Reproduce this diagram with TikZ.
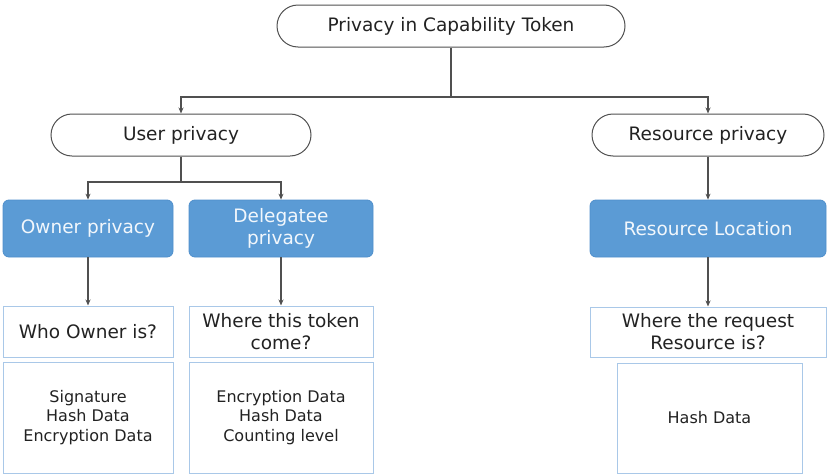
\documentclass[tikz,border=0pt]{standalone}
\usepackage{fontspec}
\setmainfont{DejaVu Sans}
\usetikzlibrary{arrows.meta}
\definecolor{boxblue}{HTML}{5B9BD5}
\definecolor{boxedge}{HTML}{4F8FCB}
\definecolor{lightedge}{HTML}{A9C8E8}
\definecolor{linegray}{HTML}{505050}
\definecolor{txt}{HTML}{222222}
\definecolor{bluetxt}{HTML}{F2F7FC}
\begin{document}
\begin{tikzpicture}[x=1pt,y=-1pt,
 pill/.style={draw=linegray, line width=1pt, rounded corners=21pt, minimum height=42pt, inner sep=0pt, font=\fontsize{18.5}{22}\selectfont, text=txt},
 bluebox/.style={fill=boxblue, draw=boxedge, line width=0.8pt, rounded corners=6pt, minimum height=57pt, inner sep=0pt, align=center, text=bluetxt, font=\fontsize{18.5}{22}\selectfont},
 qbox/.style={draw=lightedge, line width=1pt, minimum height=51pt, inner sep=0pt, align=center, text=txt, font=\fontsize{18.5}{22}\selectfont},
 dbox/.style={draw=lightedge, line width=1pt, minimum height=111pt, inner sep=0pt, align=center, text=txt, font=\fontsize{16}{19.5}\selectfont},
 conn/.style={draw=linegray, line width=1.2pt},
 arr/.style={conn, -{Stealth[length=6pt,width=5pt]}}]
\useasboundingbox (0,0) rectangle (827,474);
\node[pill, minimum width=348pt] (top) at (451,26) {Privacy in Capability Token};
\node[pill, minimum width=260pt] (user) at (181,135) {User privacy};
\node[pill, minimum width=232pt] (res) at (708,135) {Resource privacy};
\node[bluebox, minimum width=170pt] (owner) at (88,228.5) {Owner privacy};
\node[bluebox, minimum width=184pt] (dele) at (281,228.5) {Delegatee\\privacy};
\node[bluebox, minimum width=236pt] (loc) at (708,228.5) {Resource Location};
\node[qbox, minimum width=170pt] (who) at (88,331.5) {Who Owner is?};
\node[qbox, minimum width=184pt] (where) at (281,331.5) {Where this token\\come?};
\node[qbox, minimum width=236pt, minimum height=50pt] (wreq) at (708,332) {Where the request\\Resource is?};
\node[dbox, minimum width=170pt] (d1) at (88,417.5) {Signature\\Hash Data\\Encryption Data};
\node[dbox, minimum width=184pt] (d2) at (281,417.5) {Encryption Data\\Hash Data\\Counting level};
\node[dbox, minimum width=185pt, minimum height=110pt] (d3) at (709.5,418) {Hash Data};
\coordinate (j1) at (451,97);
\coordinate (j2) at (181,182);
\draw[conn] (top.south) -- (j1);
\draw[arr] (j1) -| (user.north);
\draw[arr] (j1) -| (res.north);
\draw[conn] (user.south) -- (j2);
\draw[arr] (j2) -| (owner.north);
\draw[arr] (j2) -| (dele.north);
\draw[arr] (res.south) -- (loc.north);
\draw[arr] (owner.south) -- (who.north);
\draw[arr] (dele.south) -- (where.north);
\draw[arr] (loc.south) -- (wreq.north);
\end{tikzpicture}
\end{document}
